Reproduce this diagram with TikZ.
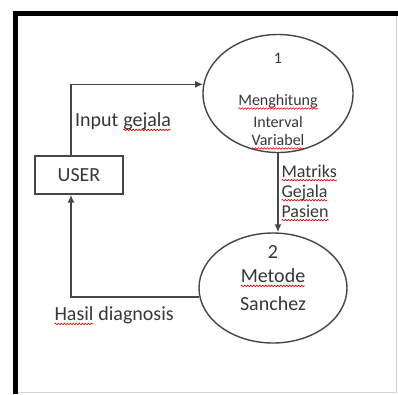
\documentclass[tikz,border=0pt]{standalone}
\usepackage{fontspec}
\setmainfont{Carlito}
\usepackage{tikz}
\usetikzlibrary{shapes.geometric,arrows.meta,decorations.pathmorphing}
\definecolor{linegray}{RGB}{70,70,70}
\definecolor{txtgray}{RGB}{55,55,55}
\newcommand{\typo}[1]{\tikz[baseline=(w.base)]{\node[inner sep=0pt,outer sep=0pt] (w) {#1};
  \draw[red!85!black,line width=0.6pt,decorate,decoration={snake,amplitude=0.8pt,segment length=3pt}] ([yshift=-3pt]w.base west) -- ([yshift=-3pt]w.base east);}}

\begin{document}
\begin{tikzpicture}[x=1pt,y=-1pt,
    lbl/.style={text=txtgray,inner sep=0pt,font=\fontsize{20}{22}\selectfont},
    small/.style={text=txtgray,inner sep=0pt,font=\fontsize{16}{18}\selectfont},
    proc/.style={ellipse,draw=linegray,line width=1.4pt,inner sep=0pt},
    flow/.style={draw=linegray,line width=1.6pt,-{Latex[length=8pt,width=7pt]}}]
                \useasboundingbox (0,0) rectangle (398,394);
                \fill[white] (0,0) rectangle (398,394);
                \draw[gray!35,line width=1pt] (396.5,13.5) -- (396.5,392.5) -- (15.5,392.5);
                \draw[line width=4.5pt] (15.5,394) -- (15.5,13.5) -- (398,13.5);

                \node[draw=linegray,line width=1.4pt,minimum width=88pt,minimum height=38pt,lbl] (user) at (79,175) {USER};
                \node[proc,minimum width=150pt,minimum height=118pt] (p1) at (278,93.5) {};
                \node[proc,minimum width=148pt,minimum height=110pt] (p2) at (273,288) {};

                \node[small] (n1) at (278,58) {1};
                \node[small] (t1) at (278,102) {\typo{Menghitung}};
                \node[small] (t2) at (278,122) {Interval};
                \node[small] (t3) at (278,142) {\typo{Variabel}};

                \node[lbl] (n2) at (273,252) {2};
                \node[lbl] (t4) at (273,278) {\typo{Metode}};
                \node[lbl] (t5) at (273,304) {Sanchez};

                \node[lbl,anchor=west] (in) at (75,122) {Input \typo{gejala}};
                \node[lbl,anchor=west,font=\fontsize{18}{20}\selectfont] (m1) at (281,173) {\typo{Matriks}};
                \node[lbl,anchor=west,font=\fontsize{18}{20}\selectfont] (m2) at (281,193) {\typo{Gejala}};
                \node[lbl,anchor=west,font=\fontsize{18}{20}\selectfont] (m3) at (281,213) {\typo{Pasien}};
                \node[lbl,anchor=west] (out) at (54,316) {\typo{Hasil} diagnosis};

                \draw[flow] ([xshift=-8pt]user.north) |- (p1.173);
                \draw[flow] (p1.south) -- (p1.south |- p2.north);
                \draw[flow] (p2.187) -| ([xshift=-8pt]user.south);
\end{tikzpicture}
\end{document}
